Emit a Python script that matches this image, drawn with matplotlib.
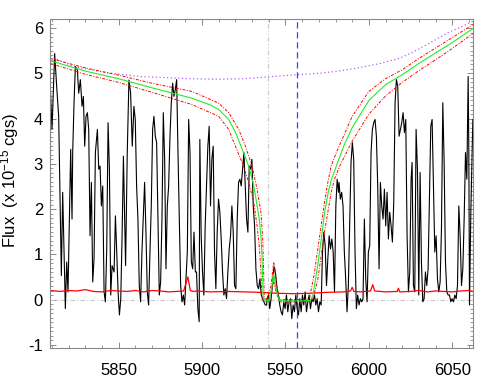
import matplotlib
matplotlib.use("Agg")
import matplotlib.pyplot as plt
from matplotlib.ticker import MultipleLocator

plt.rcParams['font.family'] = ['Liberation Sans', 'DejaVu Sans']
plt.rcParams['mathtext.fontset'] = 'custom'
plt.rcParams['mathtext.rm'] = 'Liberation Sans'
plt.rcParams['mathtext.it'] = 'Liberation Sans'
plt.rcParams['axes.unicode_minus'] = False

# observed spectrum (wavelength, flux)
spec_wl = [5809.1, 5810.1, 5811.7, 5812.9, 5814.1, 5815.1, 5815.7, 5816.5, 5817.3, 5818.1,
           5818.9, 5819.7, 5820.5, 5821.3, 5822.1, 5822.5, 5823.3, 5824.1, 5825.3, 5826.1,
           5827.1, 5828.1, 5828.9, 5829.7, 5830.5, 5831.3, 5832.1, 5832.9, 5833.7, 5834.5,
           5835.3, 5836.1, 5837.3, 5838.1, 5838.9, 5839.7, 5840.5, 5841.3, 5842.1, 5842.9,
           5843.7, 5844.5, 5845.3, 5846.1, 5847.3, 5848.1, 5848.9, 5849.7, 5850.5, 5851.3,
           5852.1, 5852.9, 5854.2, 5855.2, 5856.2, 5857.2, 5858.2, 5859.2, 5860.0, 5860.8,
           5861.6, 5862.4, 5863.2, 5864.0, 5864.8, 5865.6, 5866.4, 5867.2, 5868.0, 5868.8,
           5869.6, 5870.4, 5871.2, 5872.0, 5872.8, 5873.6, 5874.4, 5875.2, 5876.0, 5876.8,
           5877.6, 5878.4, 5879.2, 5880.0, 5880.8, 5881.6, 5882.4, 5883.2, 5884.0, 5884.8,
           5885.6, 5886.4, 5887.2, 5888.0, 5888.8, 5889.6, 5890.4, 5891.2, 5892.0, 5892.8,
           5893.6, 5894.4, 5895.2, 5896.0, 5896.7, 5897.5, 5898.3, 5898.7, 5899.5, 5900.3,
           5901.1, 5901.9, 5902.7, 5903.5, 5904.3, 5905.1, 5905.9, 5906.7, 5907.5, 5908.3,
           5909.1, 5909.9, 5910.7, 5911.5, 5912.3, 5913.1, 5913.9, 5914.7, 5915.5, 5916.3,
           5917.1, 5917.9, 5918.7, 5919.5, 5920.3, 5921.1, 5921.9, 5922.7, 5923.5, 5924.3,
           5925.1, 5925.9, 5926.7, 5927.5, 5928.3, 5929.1, 5929.9, 5930.7, 5931.5, 5932.3,
           5933.1, 5933.9, 5934.7, 5935.5, 5936.3, 5937.1, 5937.9, 5938.7, 5939.0, 5939.8,
           5940.6, 5941.4, 5942.2, 5943.0, 5943.4, 5944.2, 5945.0, 5945.8, 5946.6, 5947.4,
           5948.2, 5949.0, 5949.8, 5950.6, 5951.4, 5952.2, 5953.0, 5953.8, 5954.6, 5955.4,
           5956.2, 5957.0, 5957.8, 5958.6, 5959.4, 5960.2, 5961.0, 5961.8, 5962.6, 5963.4,
           5964.2, 5965.0, 5965.8, 5966.6, 5967.4, 5968.2, 5969.0, 5969.8, 5970.6, 5971.4,
           5972.2, 5973.0, 5973.8, 5974.6, 5975.4, 5976.2, 5977.0, 5977.8, 5978.6, 5979.4,
           5980.2, 5981.0, 5981.8, 5982.1, 5982.9, 5983.7, 5984.5, 5985.3, 5986.1, 5986.9,
           5987.7, 5988.5, 5989.3, 5990.1, 5990.9, 5991.7, 5992.5, 5993.3, 5994.1, 5994.9,
           5995.7, 5996.5, 5997.3, 5998.1, 5998.9, 5999.7, 6000.5, 6001.3, 6002.1, 6002.9,
           6003.7, 6004.5, 6005.3, 6006.1, 6006.9, 6007.7, 6008.5, 6009.3, 6010.1, 6010.9,
           6011.7, 6012.5, 6013.3, 6014.1, 6014.9, 6015.7, 6016.5, 6017.3, 6018.1, 6018.9,
           6019.7, 6020.5, 6021.3, 6022.1, 6022.9, 6023.7, 6024.5, 6025.3, 6025.9, 6026.7,
           6027.5, 6028.3, 6029.1, 6029.9, 6030.7, 6031.5, 6032.3, 6033.1, 6033.9, 6034.7,
           6035.5, 6036.3, 6037.1, 6037.9, 6038.7, 6039.5, 6040.3, 6041.1, 6041.9, 6042.7,
           6043.5, 6044.3, 6045.1, 6045.9, 6046.7, 6047.5, 6048.3, 6049.1, 6049.9, 6050.7,
           6051.5, 6052.3, 6053.1, 6053.9, 6054.7, 6055.5, 6056.3, 6057.1, 6057.9, 6058.7,
           6059.5, 6059.9, 6060.3, 6061.1, 6062.3]
spec_fx = [4.71, 3.76, 5.44, 4.71, 4.05, 1.78, 0.53, 2.37, 1.05, -0.20,
           0.83, 0.17, 1.78, 3.32, 1.78, 3.25, 4.35, 5.15, 5.08, 4.56,
           4.86, 4.27, 4.49, 3.39, 4.05, 4.13, 3.76, 1.41, 2.59, 0.39,
           0.90, 3.25, 3.76, 2.88, 2.95, 2.07, 2.51, 0.17, -0.05, 1.12,
           3.91, 2.88, 0.10, 0.75, 0.61, 1.85, 1.05, 0.17, -0.34, 0.02,
           1.41, 3.17, 0.75, 3.25, 4.85, 4.57, 3.39, 4.27, 3.98, 2.51,
           1.78, 0.31, -0.05, 1.05, 1.85, 2.59, 1.49, 0.17, -0.12, 1.05,
           2.07, 3.76, 4.05, 3.61, 3.47, 1.78, 0.10, 0.39, 1.78, 4.13,
           3.10, 0.68, 2.07, 2.51, 3.61, 4.35, 4.78, 4.49, 4.64, 4.86,
           3.25, 1.78, 0.31, -0.05, 0.10, -0.12, 0.46, 1.05, 3.98, 3.25,
           0.83, 0.68, 1.49, 0.61, 0.61, -0.20, -0.49, 3.54, 1.41, 0.61,
           0.10, 1.63, 2.51, 3.39, 3.83, 2.07, 3.10, 3.39, 1.05, 0.24,
           1.49, 2.22, 1.93, 1.34, 0.61, 0.10, 0.24, 0.02, 0.61, 1.12,
           1.41, 2.07, 1.49, 0.31, 0.24, 1.78, 2.59, 2.66, 2.51, 2.88,
           3.25, 2.51, 1.78, 1.49, 2.95, 2.88, 3.10, 2.07, 1.63, 0.68,
           0.31, 0.24, 0.46, 0.10, 0.02, -0.05, -0.12, -0.12, 0.02, 0.10,
           -0.20, 0.02, 0.31, 0.68, 0.72, 0.53, 0.24, 0.10, -0.12, -0.27,
           -0.34, -0.05, -0.20, 0.10, -0.27, -0.05, 0.02, -0.42, -0.12, -0.27,
           0.10, -0.20, -0.34, 0.02, -0.27, 0.10, -0.12, 0.17, -0.27, -0.05,
           0.10, -0.20, 0.02, -0.05, 0.10, -0.12, 0.02, -0.27, -0.05, -0.12,
           1.05, 1.49, 1.19, 0.31, 0.90, 1.41, 1.12, 1.34, 1.05, 0.17,
           2.07, 2.66, 2.37, 2.59, 2.22, 2.37, 2.07, 1.05, 0.46, -0.27,
           0.31, 1.63, 3.03, 3.47, 3.10, 1.05, -0.20, 0.10, -0.12, 0.02,
           -0.05, 0.02, 1.78, 0.46, -0.05, 1.05, 1.19, 3.25, 3.76, 3.91,
           3.98, 3.61, 2.51, 0.68, 2.59, 2.07, 1.78, 2.44, 1.63, 2.37,
           1.34, 1.93, 1.63, 1.27, 2.15, 4.35, 4.86, 4.71, 3.61, 3.76,
           3.91, 4.13, 3.69, 3.98, 1.41, 0.17, 0.61, 2.66, 3.03, 0.31,
           0.17, 3.76, 2.88, 0.10, 2.81, 0.83, -0.05, 0.02, 0.61, 0.31,
           0.68, 2.22, 3.83, 3.98, 2.51, 1.05, 1.41, 0.46, 0.17, 0.39,
           1.56, 4.35, 3.03, 0.83, 0.17, 0.10, 0.10, -0.05, 0.02, -0.05,
           0.10, 0.02, 0.31, 2.07, 1.41, 0.31, 0.68, 1.78, 3.25, 2.66,
           4.93, 3.25, -0.12, 1.93, 3.98]

# error / noise spectrum
err_wl = [5809, 5815, 5820, 5825, 5830, 5835, 5840, 5845, 5850, 5855,
          5860, 5865, 5870, 5875, 5880, 5885, 5889, 5891.5, 5893, 5895,
          5897, 5905, 5915, 5925, 5935, 5945, 5955, 5965, 5975, 5985,
          5989, 5990, 5991, 5995, 6001, 6002.3, 6003.5, 6010, 6017, 6017.7,
          6018.5, 6025, 6030, 6035, 6040, 6045, 6050, 6055, 6060, 6062.5]
err_fx = [0.20, 0.18, 0.20, 0.19, 0.22, 0.18, 0.17, 0.20, 0.19, 0.18,
          0.20, 0.17, 0.20, 0.19, 0.17, 0.18, 0.19, 0.50, 0.20, 0.18,
          0.19, 0.17, 0.18, 0.17, 0.16, 0.14, 0.13, 0.14, 0.16, 0.17,
          0.19, 0.27, 0.18, 0.17, 0.19, 0.33, 0.19, 0.17, 0.18, 0.25,
          0.17, 0.18, 0.20, 0.17, 0.19, 0.18, 0.17, 0.19, 0.20, 0.18]

# best-fit model
fit_wl = [5808.9, 5830, 5850, 5870, 5894, 5905, 5910, 5916, 5920, 5924,
          5928, 5931, 5933, 5934.3, 5935.3, 5935.9, 5936.3, 5936.7, 5938, 5940,
          5941.5, 5943, 5944.5, 5946.5, 5950, 5955, 5960, 5965, 5966.5, 5968,
          5969.5, 5971.5, 5973.5, 5975.5, 5977.5, 5980, 5985, 5990, 6000, 6010,
          6020, 6030, 6040, 6050, 6062.4]
fit_fx = [5.28, 5.05, 4.88, 4.68, 4.45, 4.30, 4.20, 3.98, 3.70, 3.33,
          2.95, 2.52, 2.08, 1.78, 1.41, 1.00, 0.50, 0.05, -0.02, -0.02,
          0.20, 0.57, 0.20, -0.02, -0.03, -0.03, -0.03, -0.02, 0.10, 0.45,
          0.80, 1.35, 1.93, 2.35, 2.65, 2.90, 3.40, 3.80, 4.40, 4.75,
          4.97, 5.22, 5.45, 5.68, 5.99]

# model bounds
up_wl = [5808.9, 5830, 5850, 5870, 5894, 5910, 5916, 5922, 5926, 5930,
         5933, 5935.3, 5936.3, 5936.9, 5937.3, 5939, 5941.3, 5943, 5944.7, 5946.5,
         5950, 5960, 5964.4, 5967.4, 5969.4, 5971.4, 5973.4, 5975.4, 5977.4, 5980.5,
         5990, 6000, 6010, 6020, 6030, 6040, 6050, 6062.4]
up_fx = [5.33, 5.12, 4.96, 4.78, 4.60, 4.34, 4.13, 3.76, 3.39, 2.95,
         2.44, 1.93, 1.41, 0.68, 0.05, 0.00, 0.30, 0.83, 0.30, 0.00,
         0.00, 0.00, 0.02, 0.60, 1.12, 1.63, 2.15, 2.59, 2.95, 3.25,
         4.05, 4.60, 4.88, 5.08, 5.33, 5.56, 5.79, 6.08]
lo_wl = [5808.9, 5830, 5850, 5870, 5894, 5910, 5916, 5920, 5924, 5928,
         5931, 5933, 5934.3, 5935.3, 5935.9, 5937.5, 5941.5, 5943, 5944.5, 5946.5,
         5960, 5966.4, 5969.4, 5971.4, 5973.4, 5975.4, 5977.4, 5979.4, 5982.5, 5990,
         6000, 6010, 6020, 6030, 6040, 6050, 6062.4]
lo_fx = [5.22, 4.98, 4.80, 4.58, 4.31, 4.05, 3.76, 3.39, 3.03, 2.59,
         2.15, 1.63, 1.19, 0.61, 0.02, -0.05, 0.15, 0.40, 0.15, -0.05,
         -0.05, 0.00, 0.45, 0.97, 1.49, 1.93, 2.37, 2.66, 2.95, 3.50,
         4.10, 4.50, 4.80, 5.06, 5.30, 5.55, 5.88]

# continuum
cont_wl = [5808.9, 5823, 5843, 5863, 5893, 5910, 5925, 5939, 5957, 5970,
           5982, 5995, 6007, 6019, 6027, 6037, 6047, 6055, 6062.4]
cont_fx = [5.38, 5.15, 5.01, 4.93, 4.88, 4.87, 4.88, 4.92, 4.97, 5.00,
           5.05, 5.13, 5.22, 5.34, 5.48, 5.68, 5.89, 6.02, 6.15]

rest_wl = 5939.5
obs_wl = 5956.7

fig = plt.figure(figsize=(4.98, 3.88), dpi=100)
ax = fig.add_axes([0.1004, 0.1031, 0.8494, 0.8479])

ax.axhline(0, color='#c8c8c8', lw=0.8, ls=(0, (4, 2, 1, 2)))
ax.axvline(rest_wl, color='#c8c8c8', lw=0.8, ls=(0, (4, 2, 1, 2, 1, 2)))
ax.axvline(obs_wl, color='#3344ff', lw=0.9, ls=(0, (5, 3)))
ax.plot(spec_wl, spec_fx, color='black', lw=0.8)
ax.plot(err_wl, err_fx, color='red', lw=0.9)
ax.plot(cont_wl, cont_fx, color='#b060ff', lw=0.9, ls=(0, (1, 2)))
ax.plot(up_wl, up_fx, color='red', lw=0.7, ls=(0, (3, 1.5, 1, 1.5)))
ax.plot(lo_wl, lo_fx, color='red', lw=0.7, ls=(0, (3, 1.5, 1, 1.5)))
ax.plot(fit_wl, fit_fx, color='#22ee22', lw=0.8)

ax.set_xlim(5808.9, 6062.4)
ax.set_ylim(-1.07, 6.2)
ax.xaxis.set_major_locator(MultipleLocator(50))
ax.xaxis.set_minor_locator(MultipleLocator(10))
ax.yaxis.set_major_locator(MultipleLocator(1))
ax.yaxis.set_minor_locator(MultipleLocator(0.1))
ax.tick_params(which='both', direction='in', top=True, right=True,
               color='#888888', labelsize=12)
ax.tick_params(which='major', length=4.5, width=0.7)
ax.tick_params(which='minor', length=2.2, width=0.6)
ax.tick_params(axis='x', pad=11)
ax.tick_params(axis='y', pad=5)
for s in ax.spines.values():
    s.set_color('#888888')
    s.set_linewidth(0.8)

fig.text(0.02, 0.535, 'Flux  (x 10$^{-15}$ cgs)', rotation=90,
         ha='center', va='center', fontsize=12)

fig.savefig('out.png', dpi=100)
